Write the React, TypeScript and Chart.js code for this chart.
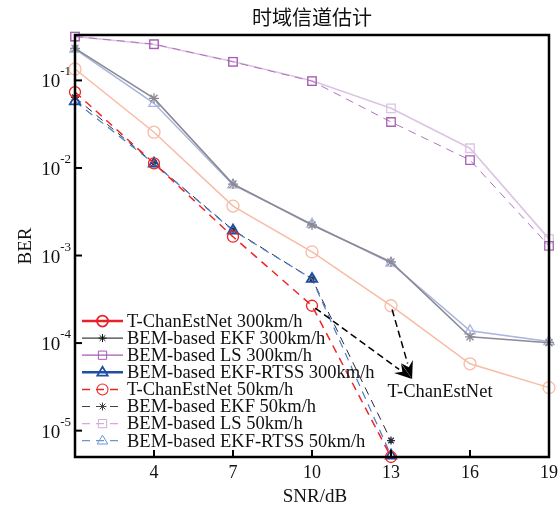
import { useEffect, useRef } from 'react';
import { Chart, registerables } from 'chart.js';
Chart.register(...registerables);

// ---- data ----
const snr = [1, 4, 7, 10, 13, 16, 19];
const xTickValues = [4, 7, 10, 13, 16, 19];
const yDecadeExponents = [-1, -2, -3, -4, -5];
const tce300 = [0.135, 0.0256, 0.00367, 0.0011, 2.67e-4, 5.8e-5, 3.1e-5];
const ekf300 = [0.232, 0.0624, 0.00655, 0.00223, 8.45e-4, 1.18e-4, 1.01e-4];
const ls300 = [0.317, 0.257, 0.164, 0.099, 0.048, 0.0168, 1.55e-3];
const rtss300 = [0.228, 0.0547, 0.0064, 0.00228, 8.2e-4, 1.38e-4, 1.04e-4];
const tce50 = [0.0736, 0.0113, 0.00164, 2.67e-4, 5.0e-6];
const ekf50 = [0.064, 0.0113, 0.00196, 5.42e-4, 7.7e-6];
const ls50 = [0.317, 0.26, 0.163, 0.098, 0.0335, 0.0123, 1.29e-3];
const rtss50 = [0.0577, 0.0112, 0.00193, 5.4e-4, 5.2e-6];

const seriesLabels = [
  'T-ChanEstNet 300km/h',
  'BEM-based EKF 300km/h',
  'BEM-based LS 300km/h',
  'BEM-based EKF-RTSS 300km/h',
  'T-ChanEstNet 50km/h',
  'BEM-based EKF 50km/h',
  'BEM-based LS 50km/h',
  'BEM-based EKF-RTSS 50km/h',
];
const titleText = '时域信道估计';
const xTitle = 'SNR/dB';
const yTitle = 'BER';
const annotationText = 'T-ChanEstNet';
const annotationTarget = { x: 13.8, y: 3.9e-5 };
const annotationTextPos = { x: 14.86, y: 2.75e-5 };
const annotationSources = [
  { x: 10, y: 2.67e-4 },
  { x: 13, y: 2.67e-4 },
];

// legend styles (legend colours differ from the plotted ones)
const legendStyles = [
  { color: '#e8202a', width: 2.5, dash: [], marker: 'circle' },
  { color: '#111111', width: 1, dash: [], marker: 'star' },
  { color: '#a858b8', width: 1.3, dash: [], marker: 'rect' },
  { color: '#1f4ea2', width: 2.5, dash: [], marker: 'triangle' },
  { color: '#ee2525', width: 1.5, dash: [8, 6], marker: 'circle' },
  { color: '#444444', width: 1, dash: [8, 6], marker: 'star' },
  { color: '#d4aad8', width: 1.3, dash: [8, 6], marker: 'rect' },
  { color: '#6a96d4', width: 1.3, dash: [8, 6], marker: 'triangle' },
];

const SERIF = '"Liberation Serif", "DejaVu Serif", serif';

function drawMarker(ctx: CanvasRenderingContext2D, kind: string, x: number, y: number, r: number) {
  ctx.beginPath();
  if (kind === 'circle') {
    ctx.arc(x, y, r, 0, Math.PI * 2);
  } else if (kind === 'rect') {
    const s = r * 0.75;
    ctx.rect(x - s, y - s, 2 * s, 2 * s);
  } else if (kind === 'triangle') {
    ctx.moveTo(x, y - r);
    ctx.lineTo(x + r * 0.95, y + r * 0.6);
    ctx.lineTo(x - r * 0.95, y + r * 0.6);
    ctx.closePath();
  } else if (kind === 'star') {
    for (let i = 0; i < 4; i++) {
      const a = (i * Math.PI) / 4;
      ctx.moveTo(x - Math.cos(a) * r, y - Math.sin(a) * r);
      ctx.lineTo(x + Math.cos(a) * r, y + Math.sin(a) * r);
    }
  }
  ctx.stroke();
}

const overlayPlugin = {
  id: 'overlay',
  afterDraw(chart: any) {
    const ctx: CanvasRenderingContext2D = chart.ctx;
    const a = chart.chartArea;
    const xs = chart.scales.x;
    const ys = chart.scales.y;
    ctx.save();
    ctx.setLineDash([]);
    // frame
    ctx.strokeStyle = '#000';
    ctx.lineWidth = 2.5;
    ctx.strokeRect(a.left, a.top, a.right - a.left, a.bottom - a.top);
    // x ticks (inward) + labels
    ctx.lineWidth = 2;
    ctx.fillStyle = '#111';
    ctx.font = `18px ${SERIF}`;
    ctx.textAlign = 'center';
    ctx.textBaseline = 'middle';
    xTickValues.forEach((v) => {
      const px = xs.getPixelForValue(v);
      ctx.beginPath();
      ctx.moveTo(px, a.bottom);
      ctx.lineTo(px, a.bottom - 7);
      ctx.stroke();
      ctx.fillText(String(v), px, a.bottom + 16);
    });
    // y ticks + labels 10^n
    yDecadeExponents.forEach((e) => {
      const py = ys.getPixelForValue(Math.pow(10, e));
      ctx.beginPath();
      ctx.moveTo(a.left, py);
      ctx.lineTo(a.left + 7, py);
      ctx.stroke();
      const exp = String(e);
      ctx.font = `13px ${SERIF}`;
      const ew = ctx.measureText(exp).width;
      ctx.textAlign = 'left';
      ctx.textBaseline = 'alphabetic';
      const expX = a.left - 4 - ew;
      ctx.fillText(exp, expX, py - 5);
      ctx.font = `19px ${SERIF}`;
      ctx.textAlign = 'right';
      ctx.fillText('10', expX, py + 7);
    });
    // axis titles
    ctx.font = `19px ${SERIF}`;
    ctx.textAlign = 'center';
    ctx.textBaseline = 'middle';
    ctx.fillText(xTitle, (a.left + a.right) / 2 + 3, a.bottom + 40);
    ctx.save();
    ctx.translate(26, (a.top + a.bottom) / 2);
    ctx.rotate(-Math.PI / 2);
    ctx.fillText(yTitle, 0, 0);
    ctx.restore();
    // title
    ctx.font = `20px "Noto Sans CJK SC", sans-serif`;
    ctx.fillText(titleText, (a.left + a.right) / 2, 17);

    // annotation arrows
    const tx = xs.getPixelForValue(annotationTarget.x);
    const ty = ys.getPixelForValue(annotationTarget.y);
    annotationSources.forEach((s) => {
      const sx = xs.getPixelForValue(s.x);
      const sy = ys.getPixelForValue(s.y);
      const ang = Math.atan2(ty - sy, tx - sx);
      const head = 16;
      const bx = tx - Math.cos(ang) * head;
      const by = ty - Math.sin(ang) * head;
      ctx.strokeStyle = '#000';
      ctx.lineWidth = 1.5;
      ctx.setLineDash([7, 4]);
      ctx.beginPath();
      ctx.moveTo(sx + Math.cos(ang) * 4, sy + Math.sin(ang) * 4);
      ctx.lineTo(bx, by);
      ctx.stroke();
      ctx.setLineDash([]);
      ctx.fillStyle = '#000';
      ctx.beginPath();
      ctx.moveTo(tx, ty);
      ctx.lineTo(bx - Math.sin(ang) * 6 - Math.cos(ang) * 2, by + Math.cos(ang) * 6 - Math.sin(ang) * 2);
      ctx.lineTo(bx + Math.cos(ang) * 4, by + Math.sin(ang) * 4);
      ctx.lineTo(bx + Math.sin(ang) * 6 - Math.cos(ang) * 2, by - Math.cos(ang) * 6 - Math.sin(ang) * 2);
      ctx.closePath();
      ctx.fill();
    });
    ctx.fillStyle = '#111';
    ctx.font = `18.5px ${SERIF}`;
    ctx.textAlign = 'center';
    ctx.textBaseline = 'middle';
    ctx.fillText(annotationText, xs.getPixelForValue(annotationTextPos.x), ys.getPixelForValue(annotationTextPos.y));

    // legend
    const lx0 = a.left + 7;
    const lx1 = a.left + 48;
    const ly0 = 321;
    const step = 17.1;
    ctx.font = `18.5px ${SERIF}`;
    ctx.textAlign = 'left';
    ctx.textBaseline = 'middle';
    seriesLabels.forEach((lab, i) => {
      const st = legendStyles[i];
      const y = ly0 + i * step;
      ctx.strokeStyle = st.color;
      ctx.lineWidth = st.width;
      ctx.setLineDash(st.dash);
      ctx.beginPath();
      ctx.moveTo(lx0, y);
      ctx.lineTo(lx1, y);
      ctx.stroke();
      ctx.setLineDash([]);
      ctx.lineWidth = Math.max(1, st.width * 0.7);
      drawMarker(ctx, st.marker, (lx0 + lx1) / 2, y, st.marker === 'star' ? 4 : 5.5);
      ctx.fillStyle = '#111';
      ctx.fillText(lab, lx1 + 4, y + 1);
    });
    ctx.restore();
  },
};

function pts(vals: number[]) {
  return vals.map((v, i) => ({ x: snr[i], y: v }));
}

export default function App() {
  const ref = useRef<HTMLCanvasElement | null>(null);
  useEffect(() => {
    if (!ref.current) return;
    const mk = (data: number[], color: string, width: number, dash: number[], style: string, radius: number, pointColor?: string, pointWidth?: number) => ({
      data: pts(data),
      borderColor: color,
      borderWidth: width,
      borderDash: dash,
      pointStyle: style,
      pointRadius: radius,
      pointBorderColor: pointColor || color,
      pointBorderWidth: pointWidth || 1.3,
      pointBackgroundColor: 'rgba(0,0,0,0)',
      fill: false,
      tension: 0,
      clip: false,
    });
    const chart = new Chart(ref.current, {
      type: 'line',
      data: {
        datasets: [
          { label: seriesLabels[4], ...mk(tce50, '#f02525', 1.5, [8, 6], 'circle', 5.5) },
          { label: seriesLabels[7], ...mk(rtss50, '#4a7cc8', 1.2, [8, 6], 'triangle', 6, '#1f4ea2', 1.8) },
          { label: seriesLabels[5], ...mk(ekf50, '#2a2a3a', 1, [8, 6], 'star', 4) },
          { label: seriesLabels[6], ...mk(ls50, '#b070c0', 1, [8, 6], 'rect', 6, '#a860b4') },
          { label: seriesLabels[0], ...mk(tce300, '#f8bba5', 1.5, [], 'circle', 6) },
          { label: seriesLabels[1], ...mk(ekf300, '#8a8a94', 1.6, [], 'star', 5) },
          { label: seriesLabels[3], ...mk(rtss300, '#aab4de', 1.5, [], 'triangle', 6) },
          { label: seriesLabels[2], ...mk(ls300, '#dcc4e4', 1.6, [], 'rect', 6) },
        ] as any,
      },
      options: {
        animation: false,
        responsive: false,
        layout: { padding: { left: 75, right: 9, top: 35, bottom: 49 } },
        plugins: { legend: { display: false }, tooltip: { enabled: false }, title: { display: false } },
        scales: {
          x: { type: 'linear', min: 1, max: 19, display: false },
          y: { type: 'logarithmic', min: 5e-6, max: 0.33, display: false },
        },
      },
      plugins: [overlayPlugin],
    });
    return () => chart.destroy();
  }, []);
  return (
    <canvas
      ref={ref}
      width={558}
      height={506}
      style={{ position: 'fixed', left: 0, top: 0, width: 558, height: 506, background: '#fff' }}
    />
  );
}
